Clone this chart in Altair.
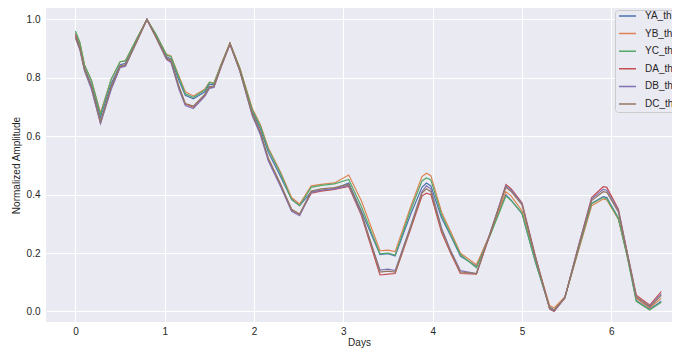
import altair as alt
import pandas as pd

days = [0, 0.05, 0.1, 0.18, 0.28, 0.4, 0.5, 0.56, 0.68, 0.8, 0.9, 1.02, 1.07, 1.16, 1.23,
        1.32, 1.45, 1.5, 1.55, 1.64, 1.73, 1.84, 1.98, 2.07, 2.16, 2.3, 2.42, 2.51, 2.64,
        2.75, 2.9, 3.06, 3.2, 3.41, 3.5, 3.58, 3.75, 3.88, 3.93, 3.98, 4.1, 4.2, 4.31,
        4.49, 4.65, 4.82, 4.88, 5.0, 5.15, 5.31, 5.36, 5.48, 5.62, 5.78, 5.91, 5.95,
        6.08, 6.18, 6.28, 6.43, 6.56]

ya = [0.95, 0.91, 0.835, 0.775, 0.665, 0.78, 0.845, 0.85, 0.925, 1.0, 0.945, 0.872, 0.865,
      0.79, 0.74, 0.728, 0.752, 0.778, 0.776, 0.85, 0.918, 0.83, 0.685, 0.625, 0.545, 0.46,
      0.385, 0.362, 0.41, 0.415, 0.42, 0.44, 0.345, 0.195, 0.198, 0.19, 0.33, 0.425, 0.44,
      0.43, 0.32, 0.26, 0.19, 0.155, 0.27, 0.4, 0.38, 0.335, 0.17, 0.015, 0.005, 0.048,
      0.2, 0.37, 0.393, 0.39, 0.32, 0.19, 0.038, 0.008, 0.035]
yb = [0.955, 0.92, 0.845, 0.79, 0.68, 0.795, 0.855, 0.858, 0.93, 1.0, 0.95, 0.88, 0.875,
      0.805, 0.752, 0.738, 0.762, 0.785, 0.782, 0.853, 0.92, 0.835, 0.695, 0.64, 0.56, 0.475,
      0.39, 0.368, 0.43, 0.435, 0.44, 0.467, 0.38, 0.208, 0.21, 0.205, 0.355, 0.462, 0.473,
      0.465, 0.34, 0.275, 0.2, 0.16, 0.27, 0.41, 0.395, 0.345, 0.185, 0.02, 0.012, 0.05,
      0.195, 0.362, 0.385, 0.382, 0.315, 0.19, 0.045, 0.012, 0.045]
yc = [0.96, 0.92, 0.845, 0.79, 0.675, 0.795, 0.855, 0.858, 0.93, 1.0, 0.95, 0.878, 0.872,
      0.8, 0.745, 0.733, 0.758, 0.784, 0.78, 0.852, 0.918, 0.833, 0.69, 0.635, 0.555, 0.47,
      0.383, 0.362, 0.425, 0.432, 0.437, 0.452, 0.36, 0.197, 0.2, 0.193, 0.345, 0.447, 0.457,
      0.45, 0.33, 0.265, 0.195, 0.15, 0.265, 0.395, 0.38, 0.337, 0.17, 0.012, 0.004, 0.046,
      0.2, 0.37, 0.39, 0.385, 0.318, 0.185, 0.035, 0.005, 0.032]
da = [0.945, 0.9, 0.83, 0.765, 0.645, 0.765, 0.838, 0.842, 0.92, 1.0, 0.94, 0.865, 0.855,
      0.765, 0.71, 0.7, 0.74, 0.766, 0.768, 0.845, 0.915, 0.825, 0.675, 0.61, 0.52, 0.43,
      0.348, 0.332, 0.405, 0.412, 0.418, 0.428, 0.33, 0.125, 0.128, 0.13, 0.28, 0.395, 0.405,
      0.4, 0.27, 0.2, 0.13, 0.128, 0.27, 0.435, 0.42, 0.372, 0.19, 0.008, 0.0, 0.046,
      0.21, 0.39, 0.427, 0.425, 0.35, 0.2, 0.056, 0.022, 0.068]
db = [0.935, 0.895, 0.825, 0.76, 0.643, 0.76, 0.835, 0.84, 0.92, 1.0, 0.94, 0.862, 0.852,
      0.76, 0.705, 0.695, 0.737, 0.764, 0.767, 0.845, 0.915, 0.823, 0.67, 0.605, 0.515, 0.425,
      0.343, 0.328, 0.408, 0.415, 0.42, 0.432, 0.335, 0.142, 0.145, 0.14, 0.29, 0.41, 0.43,
      0.42, 0.285, 0.21, 0.14, 0.13, 0.275, 0.43, 0.415, 0.37, 0.185, 0.01, 0.002, 0.047,
      0.21, 0.385, 0.418, 0.415, 0.345, 0.2, 0.05, 0.018, 0.06]
dc = [0.94, 0.9, 0.83, 0.77, 0.65, 0.77, 0.84, 0.845, 0.92, 1.0, 0.94, 0.868, 0.86,
      0.77, 0.712, 0.703, 0.744, 0.77, 0.772, 0.848, 0.917, 0.826, 0.678, 0.615, 0.525, 0.435,
      0.35, 0.334, 0.412, 0.42, 0.424, 0.436, 0.34, 0.135, 0.138, 0.135, 0.285, 0.405, 0.42,
      0.41, 0.28, 0.205, 0.135, 0.13, 0.275, 0.425, 0.41, 0.365, 0.185, 0.012, 0.004, 0.048,
      0.205, 0.38, 0.41, 0.408, 0.34, 0.195, 0.05, 0.015, 0.055]

series_names = ["YA_th", "YB_th", "YC_th", "DA_th", "DB_th", "DC_th"]
colors = ["#4C72B0", "#DD8452", "#55A868", "#C44E52", "#8172B3", "#937860"]
x_ticks = [0, 1, 2, 3, 4, 5, 6]
y_ticks = [0.0, 0.2, 0.4, 0.6, 0.8, 1.0]

rows = []
for k, (name, vals) in enumerate(zip(series_names, [ya, yb, yc, da, db, dc])):
    for d, v in zip(days, vals):
        rows.append({"Days": d, "Amplitude": v, "series": name, "k": k})
df = pd.DataFrame(rows)

FONT = "Liberation Sans"
TXT = "#262626"

chart = alt.Chart(df).mark_line(strokeWidth=1.2, clip=True).encode(
    x=alt.X("Days:Q",
            scale=alt.Scale(domain=[-0.33, 6.68], nice=False, zero=False),
            axis=alt.Axis(values=x_ticks, format="d", title="Days",
                          labelPadding=4, titlePadding=1)),
    y=alt.Y("Amplitude:Q",
            scale=alt.Scale(domain=[-0.036, 1.039], nice=False, zero=False),
            axis=alt.Axis(values=y_ticks, format=".1f", title="Normalized Amplitude",
                          labelPadding=6, titlePadding=5)),
    color=alt.Color("series:N",
                    scale=alt.Scale(domain=series_names, range=colors),
                    sort=series_names,
                    legend=alt.Legend(title=None, orient="none", legendX=569, legendY=2,
                                      fillColor="#EAEAF2", strokeColor="#CCCCCC",
                                      padding=3, cornerRadius=3,
                                      symbolType="stroke", symbolSize=289,
                                      symbolStrokeWidth=1.5, labelOffset=8,
                                      labelFont=FONT, labelFontSize=10, labelColor=TXT,
                                      clipHeight=6, rowPadding=7.6, labelLimit=300)),
    detail="k:O",
).properties(
    width=626, height=314,
    autosize=alt.AutoSizeParams(type="none"),
    padding={"left": 38, "top": 0, "right": 0, "bottom": 26},
).configure_view(
    fill="#EAEAF2", stroke=None
).configure_axis(
    grid=True, gridColor="#FFFFFF", gridWidth=1, domain=False, ticks=False,
    labelFont=FONT, labelFontSize=10, labelColor=TXT,
    titleFont=FONT, titleFontSize=10, titleFontWeight="normal", titleColor=TXT,
)

chart.save("out.html", embed_options={"renderer": "svg", "actions": False})
